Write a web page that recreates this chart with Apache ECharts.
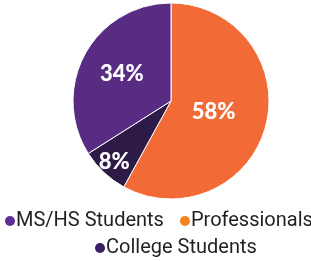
<!DOCTYPE html>
<html><head><meta charset="utf-8">
<script src="https://cdn.jsdelivr.net/npm/echarts@6/dist/echarts.min.js"></script>
<style>html,body{margin:0;padding:0;background:#fff}#c{width:311px;height:261px}</style>
</head><body><div id="c"></div>
<script>
const categories = ['MS/HS Students', 'Professionals', 'College Students'];
const values = [34, 58, 8];
const sliceColors = ['#582C83', '#F26A36', '#2E1A47'];
const legendColors = ['#5F2E91', '#F5821F', '#3A2160'];
const labelRings = [[0, 106], [0, 82], [62, 98]]; // per category: ring whose middle carries the % label

const chart = echarts.init(document.getElementById('c'), null, {renderer: 'canvas'});
const order = [1, 2, 0]; // clockwise from top: Professionals, College, MS/HS
const C = [171, 101];
const labelStyle = {
  position: 'inside', formatter: p => p.value + '%',
  color: '#fff', fontFamily: 'Lato', fontWeight: 900, fontSize: 22
};
const series = [
  {type: 'pie', center: C, radius: [0, 98], startAngle: 90, clockwise: true,
   itemStyle: {borderColor: '#fff', borderWidth: 1}, label: {show: false}, labelLine: {show: false},
   data: order.map(i => ({name: categories[i], value: values[i], itemStyle: {color: sliceColors[i]}})),
   silent: true}
];
categories.forEach((cat, k) => {
  series.push({type: 'pie', center: C, radius: labelRings[k], startAngle: 90, clockwise: true,
    label: labelStyle, labelLine: {show: false}, silent: true, legendHoverLink: false,
    data: order.map(i => ({name: categories[i], value: values[i],
      itemStyle: {color: 'rgba(0,0,0,0)', borderWidth: 0},
      label: {show: i === k}}))});
});
const legendText = {fontFamily: 'Roboto', fontSize: 20, color: '#231F20', padding: [0, 0, 0, -4]};
const legendItem = n => ({name: n, itemStyle: {color: legendColors[categories.indexOf(n)], borderWidth: 0}});
chart.setOption({
  animation: false,
  legend: [
    {data: [categories[0], categories[1]].map(legendItem),
     icon: 'circle', itemWidth: 10, itemHeight: 10, itemGap: 16, left: 0, top: 206, width: 600,
     itemStyle: {borderWidth: 0}, textStyle: legendText},
    {data: [categories[2]].map(legendItem),
     icon: 'circle', itemWidth: 10, itemHeight: 10, left: 90, top: 233, width: 600,
     itemStyle: {borderWidth: 0}, textStyle: legendText}
  ],
  series
});
</script></body></html>
